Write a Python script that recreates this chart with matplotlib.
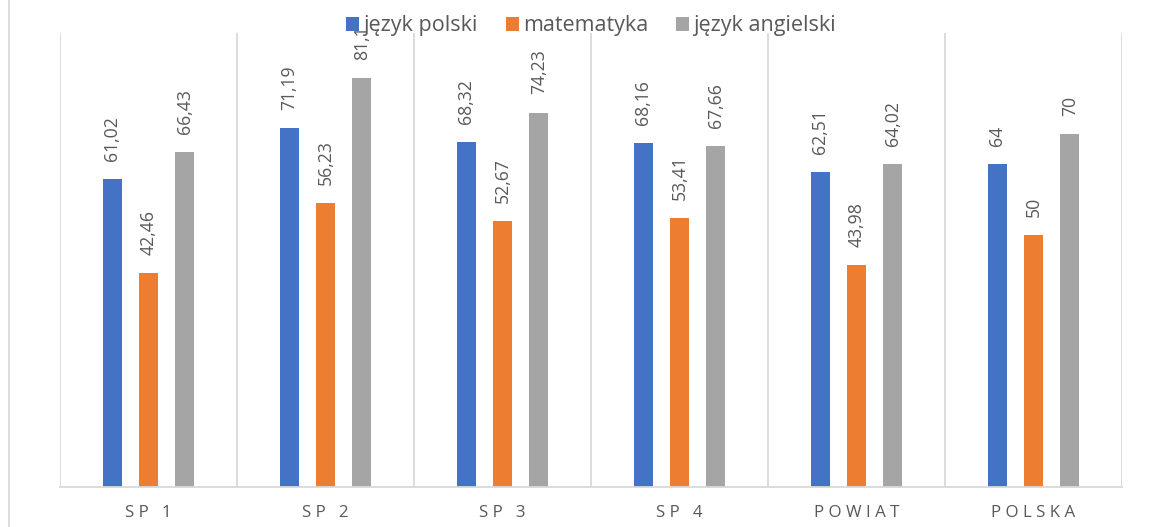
import matplotlib
matplotlib.use("Agg")
import matplotlib.pyplot as plt
from matplotlib.lines import Line2D
import numpy as np

categories = ["S P   1", "S P   2", "S P   3", "S P   4", "P O W I A T", "P O L S K A"]
series_names = ["język polski", "matematyka", "język angielski"]
polski = [61.02, 71.19, 68.32, 68.16, 62.51, 64]
matematyka = [42.46, 56.23, 52.67, 53.41, 43.98, 50]
angielski = [66.43, 81.1, 74.23, 67.66, 64.02, 70]
colors = ["#4472C4", "#ED7D31", "#A5A5A5"]

plt.rcParams['font.family'] = ['Open Sans', 'DejaVu Sans']

fig = plt.figure(figsize=(11.49, 5.27), dpi=100)
ax = fig.add_axes([60/1149, 1-487/527, (1122-60)/1149, (487-33)/527])

x = np.arange(len(categories))
width = 0.107
offset = 0.206
data = [polski, matematyka, angielski]

def fmt(v):
    s = ("%.2f" % v).rstrip("0").rstrip(".")
    return s.replace(".", ",")

for i, (vals, name, c) in enumerate(zip(data, series_names, colors)):
    bars = ax.bar(x + (i - 1) * offset, vals, width, color=c, label=name, zorder=2)
    for b, v in zip(bars, vals):
        ax.annotate(fmt(v), (b.get_x() + b.get_width() / 2, v), xytext=(0, 13),
                    textcoords="offset points", rotation=90, ha="center", va="bottom",
                    fontsize=12.7, color="#595959", annotation_clip=False)

ax.set_xlim(-0.5, len(categories) - 0.5)
ax.set_ylim(0, 90)
for k in range(len(categories) + 1):
    ax.axvline(k - 0.5, color="#D9D9D9", lw=1.3, zorder=1)

for s in ["top", "right", "left"]:
    ax.spines[s].set_visible(False)
ax.spines["bottom"].set_color("#D9D9D9")
ax.spines["bottom"].set_linewidth(1.3)
ax.set_yticks([])
ax.set_xticks(x)
ax.set_xticklabels(categories, fontsize=12.2, color="#595959")
ax.tick_params(axis="x", length=0, pad=13)

fig.legend(loc="center", bbox_to_anchor=(591/1149, 1-26/527), ncol=3, frameon=False,
           fontsize=15.5, handlelength=0.6, handleheight=0.6, handletextpad=0.2,
           columnspacing=1.3, labelcolor="#595959")

fig.add_artist(Line2D([9/1149, 9/1149], [0, 1], color="#D9D9D9", lw=1.3))

fig.savefig("out.png", dpi=100)
